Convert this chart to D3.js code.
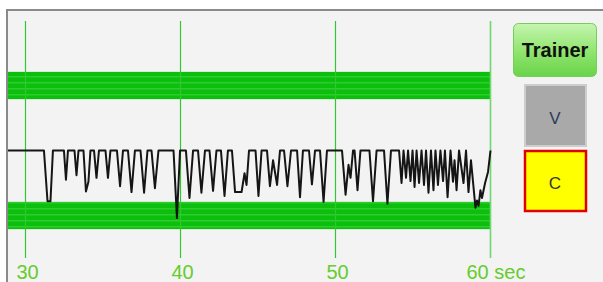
<!DOCTYPE html>
<html>
<head>
<meta charset="utf-8">
<script src="https://cdn.jsdelivr.net/npm/d3@7"></script>
<style>
  html, body { margin: 0; padding: 0; background: #fff; }
  #chart { width: 603px; height: 282px; }
</style>
</head>
<body>
<div id="chart"></div>
<script>
// signal trace: time in sec, amplitude (0 = rest level, bands sit at +1 / -1)
const times = [28.81, 31.19, 31.42, 31.61, 31.77, 32.48, 32.61, 32.74, 33.16, 33.29,
    33.42, 33.74, 33.90, 34.06, 34.19, 34.42, 34.58, 34.74, 35.16, 35.32,
    35.48, 35.90, 36.10, 36.29, 36.61, 36.84, 37.06, 37.42, 37.65, 37.87,
    38.13, 38.35, 38.58, 39.55, 39.77, 39.97, 40.35, 40.58, 40.81, 41.13,
    41.35, 41.58, 41.87, 42.10, 42.32, 42.61, 42.84, 43.06, 43.32, 43.52,
    43.94, 44.13, 44.26, 44.42, 44.84, 45.03, 45.23, 45.58, 45.77, 45.97,
    46.23, 46.42, 46.68, 46.90, 47.13, 47.52, 47.71, 47.90, 48.29, 48.48,
    48.68, 49.00, 49.23, 49.45, 50.42, 50.65, 50.84, 50.97, 51.13, 51.23,
    51.42, 51.61, 52.19, 52.42, 52.65, 53.13, 53.35, 53.58, 53.97, 54.10,
    54.26, 54.39, 54.55, 54.68, 54.84, 54.97, 55.10, 55.23, 55.39, 55.55,
    55.71, 55.84, 56.00, 56.16, 56.32, 56.45, 56.61, 56.77, 56.94, 57.06,
    57.23, 57.42, 57.58, 57.68, 57.81, 57.97, 58.26, 58.42, 58.58, 58.74,
    59.03, 59.13, 59.23, 59.35, 59.45, 59.65, 59.84, 60.00];
const values = [0, 0, -0.78, -0.78, 0, 0, -0.45, 0, 0, -0.38,
    0, 0, -0.63, -0.48, 0, 0, -0.42, 0, 0, -0.42,
    0, 0, -0.55, 0, 0, -0.64, 0, 0, -0.65, 0,
    0, -0.58, 0, 0, -1.04, 0, 0, -0.73, 0, 0,
    -0.65, 0, 0, -0.62, 0, 0, -0.70, 0, 0, -0.64,
    -0.64, -0.35, -0.53, 0, 0, -0.70, 0, 0, -0.55, -0.15,
    -0.53, 0, 0, -0.55, 0, 0, -0.72, 0, 0, -0.52,
    0, 0, -0.79, 0, 0, -0.68, -0.22, -0.42, 0, 0,
    -0.61, 0, 0, -0.78, 0, 0, -0.82, 0, 0, 0,
    -0.50, 0, -0.42, 0, -0.47, 0, -0.56, 0, -0.50, 0,
    -0.53, 0, -0.65, 0, -0.61, 0, -0.53, 0, -0.47, 0,
    -0.72, 0, -0.48, -0.15, -0.61, 0, -0.50, 0, -0.64, -0.15,
    -0.88, -0.77, -0.85, -0.61, -0.73, -0.50, -0.33, 0];

const tickValues = [30, 40, 50, 60];
const tickLabels = ['30', '40', '50', '60 sec'];
const bandLevels = [1, -1];
const bandHalf = 0.21;

const width = 603, height = 282;

const svg = d3.select('#chart').append('svg')
    .attr('width', width)
    .attr('height', height)
    .style('display', 'block');

const x = d3.scaleLinear().domain([30, 60]).range([25.5, 490.5]);
const y = d3.scaleLinear().domain([1, -1]).range([85.5, 215.5]);

// stripe pattern for the green bands
const defs = svg.append('defs');
const pat = defs.append('pattern')
    .attr('id', 'stripes')
    .attr('patternUnits', 'userSpaceOnUse')
    .attr('width', 10).attr('height', 6);
pat.append('rect').attr('width', 10).attr('height', 6).attr('fill', '#0cbf0c');
pat.append('rect').attr('y', 4).attr('width', 10).attr('height', 1.5).attr('fill', '#2fcc2f');

const grad = defs.append('linearGradient')
    .attr('id', 'btnGrad')
    .attr('x1', 0).attr('y1', 0).attr('x2', 0).attr('y2', 1);
grad.append('stop').attr('offset', '0%').attr('stop-color', '#c6f5b0');
grad.append('stop').attr('offset', '55%').attr('stop-color', '#8ee46c');
grad.append('stop').attr('offset', '100%').attr('stop-color', '#6ad34a');

// panel background
svg.append('rect')
    .attr('x', 7).attr('y', 10)
    .attr('width', width - 7).attr('height', height - 10)
    .attr('fill', '#f3f3f3');

// bands
svg.append('g').selectAll('rect')
    .data(bandLevels)
    .enter().append('rect')
    .attr('x', 8)
    .attr('y', d => y(d + bandHalf))
    .attr('width', x(60) - 8)
    .attr('height', d => y(d - bandHalf) - y(d + bandHalf))
    .attr('fill', 'url(#stripes)');

// vertical grid
svg.append('g').selectAll('line')
    .data(tickValues)
    .enter().append('line')
    .attr('x1', d => x(d)).attr('x2', d => x(d))
    .attr('y1', 21).attr('y2', 258)
    .attr('stroke', (d, i) => i === tickValues.length - 1 ? '#6fd86f' : '#33c633')
    .attr('stroke-width', (d, i) => i === tickValues.length - 1 ? 1.6 : 1.2);

// tick labels
svg.append('g').selectAll('text')
    .data(tickValues)
    .enter().append('text')
    .attr('x', (d, i) => i === tickValues.length - 1 ? x(d) - 24 : x(d) + 2)
    .attr('y', 279)
    .attr('text-anchor', (d, i) => i === tickValues.length - 1 ? 'start' : 'middle')
    .attr('font-family', '"Liberation Sans", Arial, sans-serif')
    .attr('font-size', 20)
    .attr('fill', '#66cc2e')
    .text((d, i) => tickLabels[i]);

// signal
const line = d3.line()
    .x((d, i) => x(times[i]))
    .y(d => y(d));

svg.append('path')
    .datum(values)
    .attr('d', line)
    .attr('fill', 'none')
    .attr('stroke', '#151515')
    .attr('stroke-width', 2)
    .attr('stroke-linejoin', 'round');

// frame lines
svg.append('path')
    .attr('d', 'M7,' + height + 'V10H' + width)
    .attr('fill', 'none')
    .attr('stroke', '#8a8a8a')
    .attr('stroke-width', 2);

// right-hand controls
const btn = svg.append('g');
btn.append('rect')
    .attr('x', 513.5).attr('y', 23.5)
    .attr('width', 83).attr('height', 53)
    .attr('rx', 5)
    .attr('fill', 'url(#btnGrad)')
    .attr('stroke', '#74cf5a');
btn.append('text')
    .attr('x', 555).attr('y', 57)
    .attr('text-anchor', 'middle')
    .attr('font-family', '"Liberation Sans", Arial, sans-serif')
    .attr('font-weight', 'bold')
    .attr('font-size', 20)
    .attr('fill', '#111')
    .text('Trainer');

svg.append('rect')
    .attr('x', 525).attr('y', 85)
    .attr('width', 61).attr('height', 61)
    .attr('fill', '#a9a9a9')
    .attr('stroke', '#cdcdcd')
    .attr('stroke-width', 2);
svg.append('text')
    .attr('x', 555).attr('y', 124)
    .attr('text-anchor', 'middle')
    .attr('font-family', '"Liberation Sans", Arial, sans-serif')
    .attr('font-size', 17)
    .attr('fill', '#2d3a5a')
    .text('V');

svg.append('rect')
    .attr('x', 525).attr('y', 151)
    .attr('width', 61).attr('height', 60)
    .attr('fill', '#ffff00')
    .attr('stroke', '#e00000')
    .attr('stroke-width', 2.5);
svg.append('text')
    .attr('x', 555).attr('y', 189)
    .attr('text-anchor', 'middle')
    .attr('font-family', '"Liberation Sans", Arial, sans-serif')
    .attr('font-size', 17)
    .attr('fill', '#333')
    .text('C');
</script>
</body>
</html>
